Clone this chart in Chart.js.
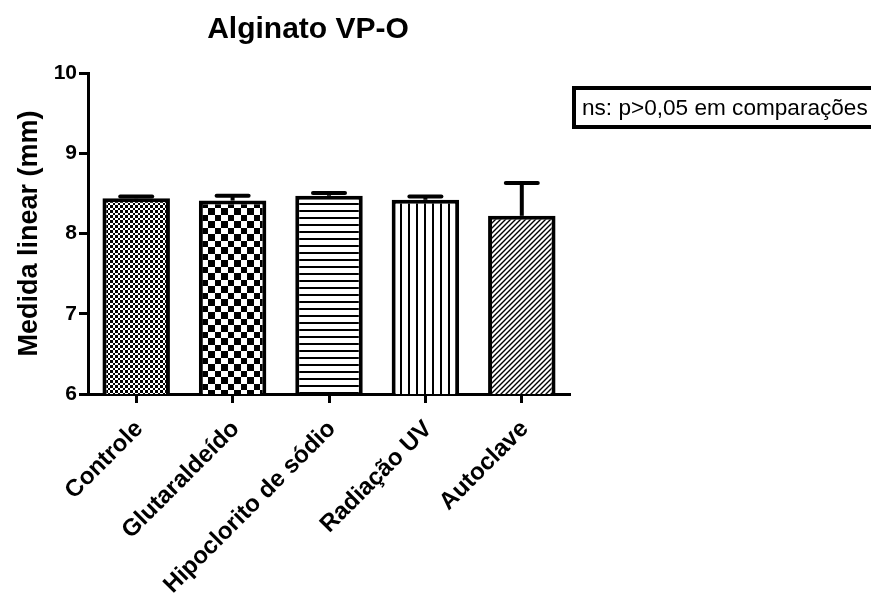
<!DOCTYPE html>
<html>
<head>
<meta charset="utf-8">
<script src="https://cdn.jsdelivr.net/npm/chart.js@4/dist/chart.umd.min.js"></script>
<style>
  html, body { margin: 0; padding: 0; background: #fff; }
  #wrap { position: relative; width: 871px; height: 598px; overflow: hidden; }
  #c { position: absolute; left: 0; top: 0; }
  #title { position: absolute; left: 0; width: 616px; top: 13px; text-align: center;
    font: bold 30px "Liberation Sans", Arial, sans-serif; line-height: 1; color: #000; }
  #note { position: absolute; left: 572px; top: 86px; width: 320px; height: 43px; box-sizing: border-box;
    border: 4px solid #000; padding-left: 6px; display: flex; align-items: center;
    font: 22.6px "Liberation Sans", Arial, sans-serif; color: #000; white-space: nowrap; }
</style>
</head>
<body>
<div id="wrap">
  <canvas id="c" width="871" height="598"></canvas>
  <div id="title">Alginato VP-O</div>
  <div id="note">ns: p&gt;0,05 em comparações</div>
</div>
<script>
const categories = ['Controle', 'Glutaraldeído', 'Hipoclorito de sódio', 'Radiação UV', 'Autoclave'];
const means = [8.44, 8.41, 8.47, 8.42, 8.22];
const errors = [0.02, 0.06, 0.035, 0.04, 0.41];
const yMin = 6;
const yMax = 10;
const yStep = 1;
const yTitle = 'Medida linear (mm)';

const canvas = document.getElementById('c');
const ctx = canvas.getContext('2d');

function tile(w, h, draw) {
  const t = document.createElement('canvas');
  t.width = w; t.height = h;
  const g = t.getContext('2d');
  g.fillStyle = '#fff'; g.fillRect(0, 0, w, h);
  g.fillStyle = '#000'; g.strokeStyle = '#000';
  draw(g, w, h);
  return ctx.createPattern(t, 'repeat');
}
const patterns = [
  // fine checkerboard
  tile(10, 10, g => {
    const e = [0, 3, 5, 8, 10];
    for (let i = 0; i < 4; i++) for (let j = 0; j < 4; j++)
      if ((i + j) % 2 === 0) g.fillRect(e[i], e[j], e[i + 1] - e[i], e[j + 1] - e[j]);
  }),
  // coarse checkerboard
  tile(13, 13, g => {
    g.fillRect(0, 0, 7, 7); g.fillRect(7, 7, 6, 6);
  }),
  // horizontal lines
  tile(8, 7, g => { g.fillRect(0, 0, 8, 2); }),
  // vertical lines
  tile(8, 8, g => { g.fillRect(0, 0, 2, 8); }),
  // diagonal lines
  tile(5, 5, g => {
    g.lineWidth = 1.4;
    g.beginPath();
    g.moveTo(-1, 6); g.lineTo(6, -1);
    g.moveTo(-1, 1); g.lineTo(1, -1);
    g.moveTo(4, 6); g.lineTo(6, 4);
    g.stroke();
  })
];

const errorBars = {
  id: 'errorBars',
  afterDatasetsDraw(chart) {
    const meta = chart.getDatasetMeta(0);
    const ys = chart.scales.y;
    const c = chart.ctx;
    c.save();
    c.strokeStyle = '#000';
    c.lineWidth = 4;
    meta.data.forEach((el, i) => {
      const yTop = ys.getPixelForValue(means[i] + errors[i]);
      c.beginPath();
      c.moveTo(el.x, el.y);
      c.lineTo(el.x, yTop);
      c.stroke();
      c.beginPath();
      c.lineCap = 'round';
      c.moveTo(el.x - 16, yTop);
      c.lineTo(el.x + 16, yTop);
      c.stroke();
      c.lineCap = 'butt';
    });
    c.restore();
  }
};

const font = "'Liberation Sans', Arial, sans-serif";

new Chart(ctx, {
  type: 'bar',
  data: {
    labels: categories,
    datasets: [{
      data: means,
      backgroundColor: patterns,
      borderColor: '#000',
      borderWidth: 4,
      barPercentage: 0.7,
      categoryPercentage: 1.0
    }]
  },
  options: {
    responsive: false,
    animation: false,
    events: [],
    layout: { padding: { left: 0, top: 73, right: 301, bottom: 0 } },
    plugins: { legend: { display: false }, tooltip: { enabled: false }, title: { display: false } },
    scales: {
      x: {
        grid: { display: true, drawOnChartArea: false, drawTicks: true, offset: false,
                tickLength: 9, tickWidth: 3, color: '#000' },
        border: { display: true, width: 3, color: '#000' },
        ticks: { color: '#000', font: { family: font, size: 24, weight: 'bold' },
                 maxRotation: 45, minRotation: 45, padding: 12, labelOffset: 3, autoSkip: false },
        afterFit(s) { s.height = 204; }
      },
      y: {
        min: yMin, max: yMax,
        grid: { display: true, drawOnChartArea: false, drawTicks: true,
                tickLength: 9, tickWidth: 3, color: '#000' },
        border: { display: true, width: 3, color: '#000' },
        ticks: { stepSize: yStep, color: '#000', font: { family: font, size: 21, weight: 'bold' }, padding: 2 },
        title: { display: true, text: yTitle, color: '#000',
                 font: { family: font, size: 27, weight: 'bold' }, padding: { top: 13, bottom: 0 } },
        afterFit(s) { s.width = 88; }
      }
    }
  },
  plugins: [errorBars]
});
</script>
</body>
</html>
